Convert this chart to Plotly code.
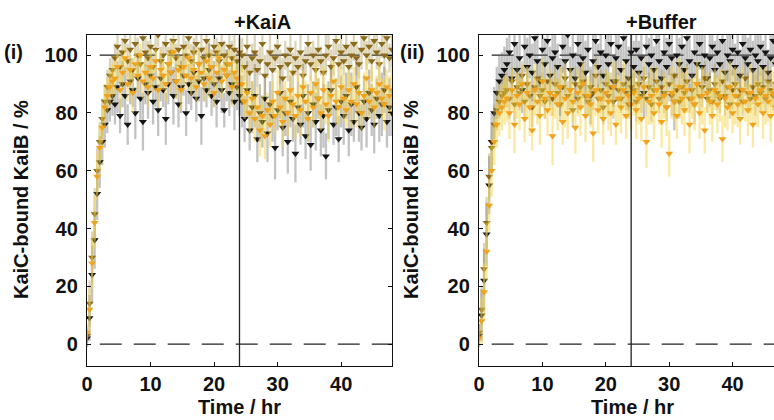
import plotly.graph_objects as go

# ---------------- DATA ----------------
# sampling times (hr)
TIME = [round(0.4 * i, 1) for i in range(121)]

# Panel (i): +KaiA
A_BLACK = [2, 9, 24, 36, 52, 63, 70, 76, 81, 84, 86,
           83, 89, 79, 90, 86, 76, 91, 88, 80, 92,
           85, 77, 90, 87, 93, 84, 89, 81, 92, 88,
           78, 90, 94, 86, 91, 83, 89, 93, 80, 90,
           87, 94, 85, 91, 79, 92, 88, 95, 86, 90,
           84, 92, 88, 81, 93, 87, 90, 84, 89, 86,
           84, 78, 88, 74, 82, 86, 71, 80, 77, 85,
           73, 83, 79, 68, 81, 87, 75, 80, 70, 84,
           78, 66, 82, 76, 86, 72, 80, 69, 83, 77,
           85, 74, 79, 65, 81, 88, 76, 82, 71, 84,
           79, 86, 74, 83, 77, 89, 80, 75, 84, 78,
           87, 81, 76, 85, 79, 83, 88, 77, 82, 80]
A_ORANGE = [4, 12, 28, 42, 58, 68, 75, 82, 86, 89, 91,
            92, 96, 88, 94, 99, 90, 95, 87, 97, 93,
            100, 91, 94, 89, 96, 92, 98, 88, 95, 93,
            90, 97, 94, 101, 91, 95, 88, 96, 93, 99,
            92, 95, 89, 97, 94, 90, 98, 92, 96, 87,
            94, 99, 91, 95, 93, 97, 89, 94, 92, 90,
            90, 84, 87, 80, 85, 78, 82, 74, 79, 72,
            81, 76, 84, 79, 87, 82, 77, 85, 80, 88,
            83, 79, 86, 81, 89, 84, 78, 87, 82, 90,
            85, 80, 88, 83, 79, 86, 91, 84, 82, 89,
            85, 81, 88, 84, 90, 83, 87, 80, 86, 92,
            84, 88, 82, 87, 90, 85, 83, 89, 86, 88]
A_BROWN = [3, 14, 30, 45, 60, 70, 78, 84, 89, 93, 95,
           99, 103, 96, 101, 105, 98, 102, 95, 104, 100,
           97, 106, 101, 99, 103, 96, 102, 107, 98, 100,
           104, 97, 101, 105, 99, 102, 96, 103, 100, 106,
           98, 101, 104, 97, 102, 99, 105, 100, 96, 103,
           101, 98, 104, 100, 97, 103, 99, 102, 98, 101,
           100, 96, 103, 94, 99, 101, 95, 98, 104, 93,
           97, 101, 95, 99, 103, 96, 92, 100, 97, 102,
           94, 99, 96, 101, 93, 98, 104, 97, 100, 95,
           102, 98, 94, 100, 103, 96, 99, 105, 97, 101,
           98, 103, 96, 100, 104, 99, 97, 102, 106, 100,
           103, 98, 105, 101, 97, 104, 100, 106, 99, 102]

A_BLACK_ERR = [3, 8, 10, 10, 9, 9, 8, 8, 8, 7, 7,
               7, 9, 6, 8, 10, 7, 8, 6, 9, 7, 8, 10, 7, 9, 6, 8, 7, 9, 8, 6,
               9, 7, 8, 10, 6, 8, 9, 7, 8, 7, 6, 9, 8, 7, 10, 8, 6, 9, 7, 8,
               9, 7, 8, 6, 9, 8, 7, 10, 8, 7,
               9, 8, 10, 7, 9, 11, 8, 10, 9, 7, 10, 8, 9, 11, 7, 9, 10, 8, 11, 9,
               8, 10, 9, 7, 11, 8, 10, 9, 8, 10, 7, 9, 11, 8, 10, 9, 7, 10, 8, 9,
               10, 8, 9, 11, 7, 9, 10, 8, 9, 10, 8, 9, 10, 7, 9, 11, 8, 9, 10, 8]
A_ORANGE_ERR = [3, 7, 9, 9, 8, 8, 7, 7, 6, 6, 6,
                6, 5, 7, 6, 4, 6, 5, 7, 5, 6, 4, 6, 5, 7, 6, 5, 4, 6, 7, 5,
                6, 5, 7, 4, 6, 5, 7, 6, 5, 4, 6, 7, 5, 6, 4, 6, 5, 7, 6, 5,
                7, 5, 6, 4, 6, 5, 7, 6, 5, 6,
                7, 6, 8, 7, 6, 8, 7, 9, 7, 8, 6, 8, 7, 6, 8, 7, 9, 6, 8, 7,
                6, 8, 7, 9, 6, 7, 8, 6, 7, 8, 7, 6, 8, 7, 9, 6, 7, 8, 6, 7,
                8, 6, 7, 9, 6, 8, 7, 6, 8, 7, 6, 8, 7, 6, 8, 7, 9, 6, 7, 8]
A_BROWN_ERR = [3, 8, 9, 9, 8, 7, 7, 6, 6, 6, 5,
               5, 4, 6, 5, 4, 6, 5, 4, 5, 6, 5, 4, 5, 6, 4, 5, 6, 4, 5, 5,
               4, 6, 5, 4, 5, 6, 4, 5, 5, 4, 6, 5, 4, 5, 6, 4, 5, 5, 6, 4,
               5, 6, 4, 5, 5, 4, 6, 5, 4, 5,
               6, 5, 7, 6, 5, 7, 6, 5, 6, 7, 5, 6, 7, 5, 6, 6, 7, 5, 6, 5,
               7, 6, 5, 6, 7, 5, 6, 6, 5, 7, 6, 5, 6, 7, 5, 6, 6, 5, 7, 6,
               5, 6, 7, 5, 6, 6, 5, 7, 6, 5, 6, 7, 5, 6, 6, 5, 7, 6, 5, 6]

# Panel (ii): +Buffer
B_BLACK = [3, 10, 22, 38, 55, 70, 80, 87, 91, 93, 95,
           97, 101, 92, 104, 95, 99, 88, 103, 96, 100,
           94, 106, 98, 91, 102, 97, 105, 93, 99, 101,
           96, 89, 103, 98, 107, 95, 100, 92, 104, 97,
           99, 94, 102, 86, 98, 105, 96, 101, 93, 100,
           97, 104, 91, 99, 103, 95, 106, 98, 92, 101,
           96, 102, 94, 99, 87, 103, 97, 100, 95, 105,
           98, 92, 101, 96, 104, 99, 84, 100, 97, 103,
           95, 106, 98, 93, 101, 97, 104, 96, 100, 92,
           99, 103, 95, 101, 97, 105, 94, 100, 98, 102,
           96, 101, 93, 104, 99, 97, 102, 95, 100, 98,
           103, 96, 101, 94, 99, 105, 97, 100, 96, 102]
B_ORANGE = [2, 8, 18, 32, 48, 60, 70, 76, 80, 82, 84,
            85, 80, 88, 76, 86, 83, 90, 78, 87, 82,
            74, 88, 84, 79, 91, 85, 81, 87, 72, 86,
            83, 89, 77, 85, 80, 88, 84, 75, 87, 82,
            90, 79, 86, 83, 73, 88, 81, 85, 78, 87,
            84, 80, 89, 76, 85, 82, 88, 79, 86, 83,
            87, 81, 85, 78, 89, 70, 84, 86, 80, 88,
            83, 77, 86, 82, 66, 87, 84, 79, 89, 85,
            81, 88, 76, 85, 83, 90, 80, 86, 74, 87,
            84, 79, 88, 83, 86, 71, 85, 82, 89, 80,
            86, 83, 78, 88, 84, 81, 87, 76, 85, 83,
            88, 80, 86, 84, 79, 87, 82, 85, 81, 86]
B_BROWN = [4, 12, 26, 42, 58, 68, 76, 81, 84, 86, 87,
           88, 85, 91, 83, 89, 87, 93, 84, 90, 86,
           82, 89, 92, 86, 88, 84, 91, 87, 85, 90,
           87, 83, 89, 92, 86, 88, 81, 90, 85, 89,
           91, 86, 84, 89, 87, 93, 85, 88, 82, 90,
           86, 89, 84, 91, 88, 85, 90, 87, 83, 89,
           88, 84, 90, 86, 92, 85, 89, 83, 88, 91,
           85, 89, 87, 82, 90, 86, 93, 88, 84, 89,
           87, 91, 85, 88, 83, 90, 86, 89, 92, 85,
           88, 84, 90, 87, 85, 91, 86, 89, 83, 88,
           90, 86, 88, 84, 92, 87, 85, 89, 86, 90,
           87, 89, 85, 91, 88, 86, 90, 84, 89, 87]

B_BLACK_ERR = [4, 9, 11, 11, 10, 10, 9, 9, 9, 8, 8,
               9, 10, 8, 11, 9, 10, 8, 9, 10, 8, 10, 9, 11, 8, 10, 9, 8, 10, 9, 11,
               8, 10, 9, 11, 9, 8, 10, 9, 11, 10, 9, 11, 8, 10, 9, 10, 8, 11, 9, 10,
               10, 8, 9, 11, 10, 9, 8, 10, 11, 9, 9, 10, 11, 8, 9, 10, 9, 11, 8, 10,
               10, 9, 8, 10, 11, 9, 10, 8, 9, 11, 9, 11, 10, 8, 9, 10, 9, 11, 10, 8,
               11, 9, 10, 9, 8, 10, 11, 9, 10, 9, 8, 10, 9, 11, 10, 9, 8, 10, 9, 11,
               10, 9, 11, 8, 10, 9, 10, 8, 11, 9]
B_ORANGE_ERR = [3, 8, 10, 10, 9, 9, 8, 8, 8, 8, 8,
                8, 9, 7, 10, 8, 9, 7, 8, 9, 10, 7, 9, 8, 10, 8, 7, 9, 8, 10, 8,
                9, 7, 8, 10, 9, 8, 7, 9, 8, 10, 8, 9, 7, 8, 10, 9, 8, 7, 9, 8,
                10, 8, 9, 7, 8, 9, 10, 8, 7, 9, 8, 10, 9, 8, 7, 9, 8, 10, 9, 8,
                7, 9, 8, 10, 8, 9, 7, 8, 10, 9, 9, 8, 10, 7, 9, 8, 9, 10, 8, 7,
                8, 9, 7, 10, 9, 8, 10, 8, 9, 7, 10, 8, 9, 8, 7, 9, 10, 8, 9, 8,
                8, 9, 10, 7, 9, 8, 7, 9, 10, 8]
B_BROWN_ERR = [3, 8, 9, 9, 8, 8, 7, 7, 6, 6, 6,
               6, 7, 5, 6, 7, 6, 5, 7, 6, 5, 7, 6, 5, 7, 6, 6, 7, 5, 6, 7,
               5, 6, 7, 6, 5, 7, 6, 6, 5, 7, 6, 7, 5, 6, 6, 7, 5, 7, 6, 5,
               7, 5, 6, 7, 6, 5, 7, 6, 5, 6, 6, 7, 5, 6, 7, 6, 5, 6, 7, 5,
               5, 6, 7, 5, 6, 7, 6, 5, 6, 7, 7, 6, 5, 6, 7, 5, 6, 7, 6, 5,
               6, 5, 7, 6, 5, 6, 7, 6, 5, 7, 5, 7, 6, 5, 6, 7, 5, 6, 7, 6,
               7, 6, 5, 7, 6, 5, 6, 7, 6, 5]

X_TICKS = [0, 10, 20, 30, 40]
Y_TICKS = [0, 20, 40, 60, 80, 100]
PANEL_TITLES = ["+KaiA", "+Buffer"]
PANEL_LABELS = ["(i)", "(ii)"]
X_TITLE = "Time / hr"
Y_TITLE = "KaiC-bound KaiB / %"
SWITCH_TIME = 24
REF_LEVELS = [0, 100]
REF_START = 2

# ---------------- FIGURE ----------------
W, H = 774, 420
FONT = "Liberation Sans, Arial, sans-serif"
C_BLACK, C_ORANGE, C_BROWN = "#151515", "#f2a31c", "#8c6a1c"
E_BLACK = "rgba(105,105,105,0.40)"
E_ORANGE = "rgba(246,212,70,0.50)"
E_BROWN = "rgba(165,145,70,0.38)"

fig = go.Figure()

def add_series(y, err, color, ecolor, xa, ya):
    fig.add_trace(go.Scatter(
        x=TIME, y=y, mode="markers", xaxis=xa, yaxis=ya,
        marker=dict(symbol="triangle-down", size=7, color=color, line=dict(width=0)),
        error_y=dict(type="data", array=err, color=ecolor, thickness=2.3, width=0),
        showlegend=False, hoverinfo="skip"))

for (bk, bke, br, bre, og, oge), xa, ya in [
        ((A_BLACK, A_BLACK_ERR, A_BROWN, A_BROWN_ERR, A_ORANGE, A_ORANGE_ERR), "x", "y"),
        ((B_BLACK, B_BLACK_ERR, B_BROWN, B_BROWN_ERR, B_ORANGE, B_ORANGE_ERR), "x2", "y2")]:
    add_series(bk, bke, C_BLACK, E_BLACK, xa, ya)
    add_series(br, bre, C_BROWN, E_BROWN, xa, ya)
    add_series(og, oge, C_ORANGE, E_ORANGE, xa, ya)

YR = [-7.6, 107]
px_per_hr = 6.34
x2max = (W - 479) / px_per_hr

axis_common = dict(
    showgrid=False, zeroline=False, showline=True, linecolor="#111", linewidth=1.3,
    ticks="inside", ticklen=4, tickcolor="#111", tickwidth=1, automargin=False,
    tickfont=dict(family=FONT, size=20, color="#111", weight="bold"),
)
ydom = [1 - 366 / H, 1 - 35 / H]
fig.update_layout(
    width=W, height=H, margin=dict(l=0, r=0, t=0, b=0, autoexpand=False),
    paper_bgcolor="white", plot_bgcolor="white",
    xaxis=dict(domain=[87 / W, 392 / W], range=[0, 48], tickvals=X_TICKS, mirror="ticks", **axis_common),
    yaxis=dict(domain=ydom, range=YR, tickvals=Y_TICKS, mirror="ticks", ticklabelstandoff=4, **axis_common),
    xaxis2=dict(domain=[479 / W, 1], range=[0, x2max], tickvals=X_TICKS, mirror="ticks", anchor="y2", **axis_common),
    yaxis2=dict(domain=ydom, range=YR, tickvals=Y_TICKS, mirror=False, anchor="x2", ticklabelstandoff=4, **axis_common),
)

shapes = []
for xr, yr in [("x", "y"), ("x2", "y2")]:
    for lvl in REF_LEVELS:
        shapes.append(dict(type="line", xref=xr, yref=yr, x0=REF_START, x1=48, y0=lvl, y1=lvl,
                           line=dict(color="#222", width=1.3, dash="22px,12px"), layer="below"))
    shapes.append(dict(type="line", xref=xr, yref=yr + " domain", x0=SWITCH_TIME, x1=SWITCH_TIME, y0=0, y1=1,
                       line=dict(color="#222", width=1.3), layer="above"))
fig.update_layout(shapes=shapes)

def ann(text, px, py, size=20, angle=0):
    fig.add_annotation(text=text, x=px / W, y=1 - py / H, xref="paper", yref="paper",
                       showarrow=False, textangle=angle, xanchor="center", yanchor="middle",
                       font=dict(family=FONT, size=size, color="#111", weight="bold"))

ann(PANEL_TITLES[0], 262, 22)
ann(PANEL_TITLES[1], 661, 22)
ann(PANEL_LABELS[0], 13, 52)
ann(PANEL_LABELS[1], 412, 52)
ann(Y_TITLE, 21, 200, angle=-90)
ann(Y_TITLE, 411, 200, angle=-90)
ann(X_TITLE, 239, 407)
ann(X_TITLE, 632, 407)

fig.write_html("out.html")
